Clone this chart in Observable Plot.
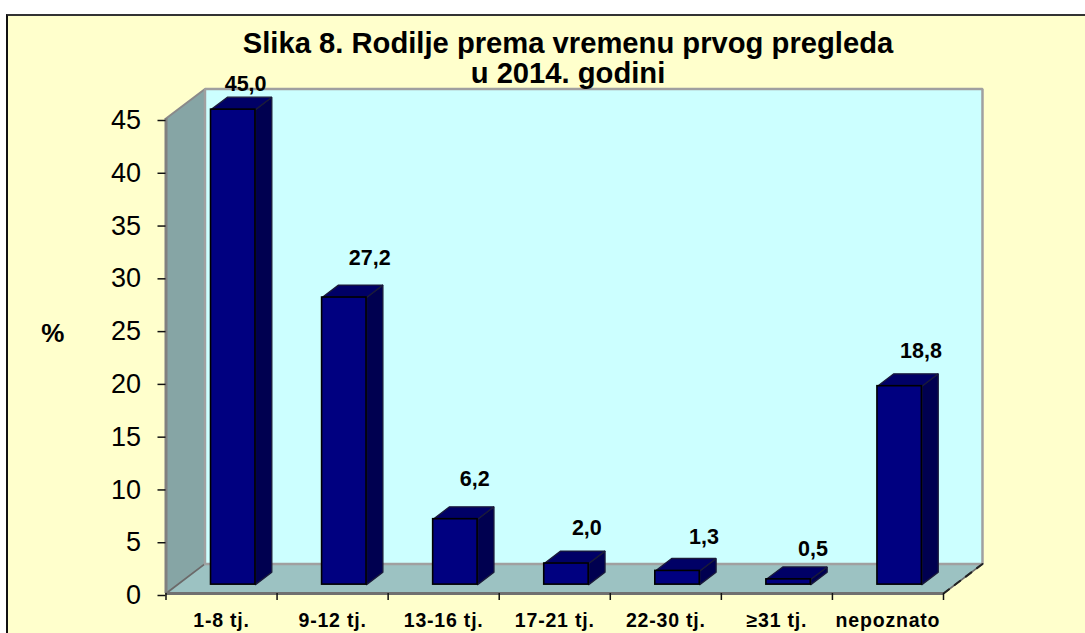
<!DOCTYPE html>
<html><head><meta charset="utf-8">
<script src="https://cdn.jsdelivr.net/npm/d3@7"></script>
<script src="https://cdn.jsdelivr.net/npm/@observablehq/plot@0.6"></script>
<style>
html,body{margin:0;padding:0;background:#fff;overflow:hidden;width:1085px;height:633px}
#panel{position:absolute;left:6px;top:14px;right:0;bottom:0;border-top:2px solid #333;border-left:2px solid #111;background:#FFFFCC}
#chart{position:absolute;left:0;top:0}
#chart svg{background:transparent !important;display:block}
#title{position:absolute;left:168px;width:800px;top:28px;text-align:center;font:bold 29.2px/30px "Liberation Sans",Arial,sans-serif;color:#000;z-index:2}
[aria-label="x-axis tick label"] text{letter-spacing:.8px}
</style></head><body>
<div id="panel"></div>
<div id="title">Slika 8. Rodilje prema vremenu prvog pregleda<br>u 2014. godini</div>
<div id="chart"></div>
<script>
const categories = ["1-8 tj.","9-12 tj.","13-16 tj.","17-21 tj.","22-30 tj.","≥31 tj.","nepoznato"];
const values = [45.0,27.2,6.2,2.0,1.3,0.5,18.8];
const yTicks = [0,5,10,15,20,25,30,35,40,45];

// oblique projection, in data units: depth d in 0..1
const DX = 0.351, DY = 2.8, YMAX = 45, N = categories.length;
const P = (x,y,d) => ({x: x + d*DX, y: y + d*DY});
const face = (pts, fill, stroke, sw=1.3) => Plot.line([...pts, pts[0]], {x:"x", y:"y", fill, stroke, strokeWidth:sw, strokeLinejoin:"miter"});

const leftWall = [P(0,0,0),P(0,0,1),P(0,YMAX,1),P(0,YMAX,0)];
const floor = [P(0,0,0),P(N,0,0),P(N,0,1),P(0,0,1)];
const backWall = [P(0,0,1),P(N,0,1),P(N,YMAX,1),P(0,YMAX,1)];

const halfW = 0.2, d0 = 0.3, d1 = 0.72;
const barFaces = values.flatMap((v,i)=>{
  const l = i+0.5-halfW, r = i+0.5+halfW;
  return [
    face([P(r,0,d0),P(r,0,d1),P(r,v,d1),P(r,v,d0)], "#000050", "#1a1a3a"),
    face([P(l,v,d0),P(r,v,d0),P(r,v,d1),P(l,v,d1)], "#000066", "#1a1a3a"),
    Plot.rect([i], {
      x1:P(l,0,d0).x, x2:P(r,0,d0).x, y1:P(l,0,d0).y, y2:P(l,v,d0).y,
      fill:"#000080", stroke:"#000", strokeWidth:1.6
    })
  ];
});

const nudges = [[12,-13],[25,-27],[19,-28],[20,-23],[26,-21],[24,-18],[21,-23]];
const labels = values.map((v,i)=>{
  const p = P(i+0.5,v,d1);
  return Plot.text([v], {x:p.x, y:p.y, text:d=>d.toFixed(1).replace(".",","),
    dx:nudges[i][0]-16, dy:nudges[i][1], fontSize:21.5, fontWeight:"bold", fontFamily:"Liberation Sans", fill:"#000", textAnchor:"middle"});
});

const chart = Plot.plot({
  width:1085, height:633,
  marginLeft:165.5, marginRight:142, marginTop:118, marginBottom:40,
  x:{domain:[0,N]}, y:{domain:[0,YMAX]},
  style:{background:"transparent", color:"#000"},
  marks:[
    face(leftWall,"#86A5A5","#8a8a8a",2),
    face(floor,"#9CC2C2","#6a6a6a",1.6),
    face(backWall,"#CCFFFF","#a0a0a0",2.5),
    ...barFaces,
    ...labels,
    Plot.line([P(N,0,0),P(N,0,1)],{x:"x",y:"y",stroke:"#222",strokeWidth:2,strokeDasharray:"7,7"}),
    Plot.ruleX([0],{y1:0,y2:YMAX,stroke:"#808080",strokeWidth:3}),
    Plot.ruleY([0],{x1:0,x2:N,stroke:"#707070",strokeWidth:3}),
    Plot.axisY({ticks:yTicks,tickSize:8,tickPadding:17,dy:2,fontSize:27,fontFamily:"Liberation Sans",stroke:"#111",strokeWidth:1.5,label:null}),
    Plot.axisX({ticks:d3.range(N+1),tickSize:7,tickFormat:()=>"",stroke:"#111",strokeWidth:1.5,label:null}),
    Plot.axisX({ticks:d3.range(N).map(i=>i+0.5),tickSize:0,tickPadding:20,tickFormat:t=>categories[Math.floor(t)],fontSize:19.5,fontWeight:"bold",fontFamily:"Liberation Sans",label:null}),
    Plot.text(["%"],{x:-1.02,y:24.6,text:d=>d,fontSize:26,fontWeight:"bold",fontFamily:"Liberation Sans",fill:"#000"})
  ]
});
document.getElementById("chart").append(chart);
</script>
</body></html>
